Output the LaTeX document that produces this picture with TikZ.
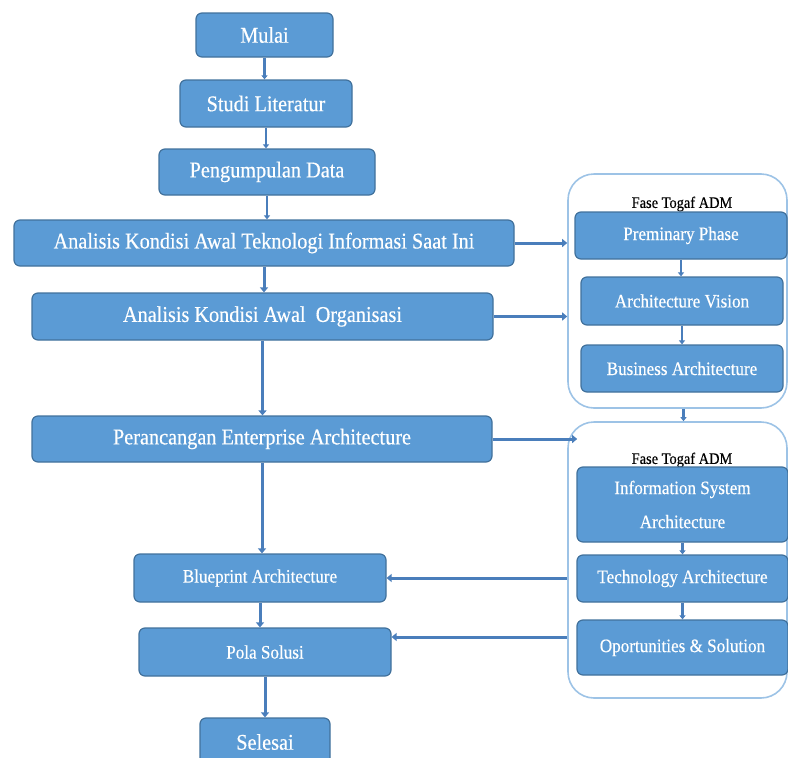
\documentclass[tikz,border=0pt]{standalone}
\usepackage{fontspec}
\setmainfont{Liberation Serif}[FakeStretch=0.9,FakeBold=0.4]
\usetikzlibrary{arrows.meta,calc}
\definecolor{boxfill}{HTML}{5B9BD5}
\definecolor{boxline}{HTML}{41719C}
\definecolor{flow}{HTML}{4A7EBB}
\definecolor{frame}{HTML}{9DC3E6}
\tikzset{
  box/.style={draw=boxline, line width=1.2pt, fill=boxfill, rounded corners=6pt,
    text=white, inner sep=0pt, align=center},
  bigtext/.style={font=\fontsize{22.5}{27}\selectfont},
  smalltext/.style={font=\fontsize{19}{23}\selectfont},
  group/.style={draw=frame, line width=1.6pt, rounded corners=26pt, inner sep=0pt},
  flowline/.style={draw=flow, line width=3pt, -{Triangle[width=8pt,length=5pt]}},
  thinflow/.style={draw=flow, line width=2.2pt, -{Triangle[width=6pt,length=4pt]}},
}
\begin{document}
\begin{tikzpicture}[x=1pt,y=-1pt]
\useasboundingbox (0,0) rectangle (788,758);
\clip (0,0) rectangle (788,758);

% main column
\node[box,bigtext,minimum width=137,minimum height=44] (m)  at (264.5,35) {Mulai};
\node[box,bigtext,minimum width=172,minimum height=47] (sl) at (266,103.5) {Studi Literatur};
\node[box,bigtext,minimum width=216,minimum height=46] (pd) at (267,172) {Pengumpulan Data};
\node[box,bigtext,minimum width=500,minimum height=46] (ti) at (264,243) {Analisis Kondisi Awal Teknologi Informasi Saat Ini};
\node[box,bigtext,minimum width=461,minimum height=47] (ao) at (262.5,316.5) {Analisis Kondisi Awal\ \ Organisasi};
\node[box,bigtext,minimum width=460,minimum height=46] (pe) at (262,439) {Perancangan Enterprise Architecture};
\node[box,smalltext,minimum width=252,minimum height=48] (bp) at (260,578) {Blueprint Architecture};
\node[box,smalltext,minimum width=252,minimum height=48] (ps) at (265,652) {Pola Solusi};
\node[box,bigtext,minimum width=130,minimum height=52] (se) at (265,744) {};
\node[text=white,bigtext] at (265,742) {Selesai};

% TOGAF ADM groups
\node[group,minimum width=219,minimum height=234] (g1) at (677.5,291) {};
\node[group,minimum width=219,minimum height=276] (g2) at (677.5,560) {};
\node[font=\fontsize{16}{19}\selectfont,inner sep=0pt] (t1) at (682,204) {Fase Togaf ADM};
\node[font=\fontsize{16}{19}\selectfont,inner sep=0pt] (t2) at (682,460) {Fase Togaf ADM};

\node[box,smalltext,minimum width=212,minimum height=47] (pp) at (681,235.5) {Preminary Phase};
\node[box,smalltext,minimum width=202,minimum height=48] (av) at (682,301) {Architecture Vision};
\node[box,smalltext,minimum width=202,minimum height=47] (ba) at (682,368.5) {Business Architecture};
\node[box,font=\fontsize{19}{34}\selectfont,minimum width=211,minimum height=75] (is) at (682.5,504.5) {Information System\\Architecture};
\node[box,smalltext,minimum width=211,minimum height=47] (ta) at (682.5,578.5) {Technology Architecture};
\node[box,smalltext,minimum width=211,minimum height=55] (os) at (682.5,647.5) {Oportunities \& Solution};

% main flow
\draw[thinflow] (m.south) -- (m.south |- sl.north);
\draw[thinflow] (sl.south) -- (sl.south |- pd.north);
\draw[thinflow] (pd.south) -- (pd.south |- ti.north);
\draw[flowline] (ti.south) -- (ti.south |- ao.north);
\draw[flowline] (ao.south) -- (ao.south |- pe.north);
\draw[flowline] (pe.south) -- (pe.south |- bp.north);
\draw[flowline] (bp.south) -- (bp.south |- ps.north);
\draw[flowline] (ps.south) -- (ps.south |- se.north);

% into the phase groups
\draw[flowline] (ti.east) -- (ti.east -| g1.west);
\draw[flowline] (ao.east) -- (ao.east -| g1.west);
\draw[flowline] (pe.east) -- ($(pe.east -| g2.west)+(10,0)$);

% within the groups
\draw[thinflow] (pp.south) -- (pp.south |- av.north);
\draw[thinflow] (av.south) -- (av.south |- ba.north);
\draw[thinflow] ([xshift=6pt]g1.south) -- ([xshift=6pt]g1.south |- g2.north);
\draw[thinflow] (is.south) -- (is.south |- ta.north);
\draw[thinflow] (ta.south) -- (ta.south |- os.north);

% back to the results
\draw[flowline] (g2.west |- bp.east) -- (bp.east);
\draw[flowline] (g2.west |- 0,637) -- (ps.east |- 0,637);
\end{tikzpicture}
\end{document}
